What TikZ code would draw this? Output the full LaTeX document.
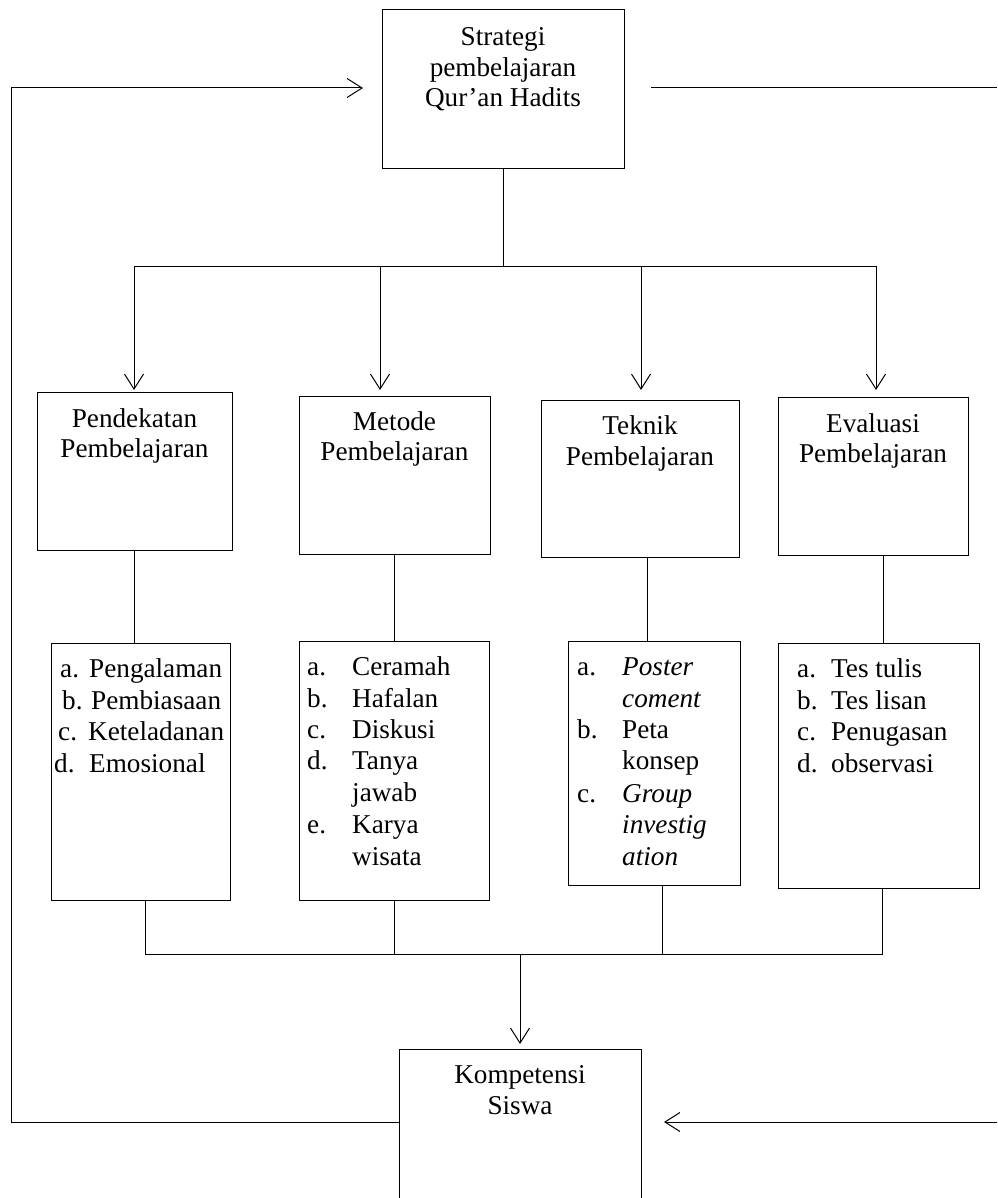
\documentclass[tikz,border=0pt]{standalone}
\usepackage{fontspec}
\setmainfont{Liberation Serif}
\usetikzlibrary{arrows.meta}
\begin{document}
\begin{tikzpicture}[x=1pt,y=-1pt,
  box/.style={draw, line width=1pt, rectangle, inner sep=0pt, anchor=north west},
  txt/.style={anchor=base, inner sep=0pt, font=\fontsize{27.2}{30}\selectfont},
  lab/.style={anchor=base west, inner sep=0pt, font=\fontsize{27.2}{30}\selectfont},
  wire/.style={line width=1pt},
  arr/.style={line width=1pt, -{Straight Barb[length=15pt,width=19pt]}}]

\useasboundingbox (0,0) rectangle (997,1198);
\fill[white] (0,0) rectangle (997,1198);
\clip (0,0) rectangle (997,1198);

% ---- boxes ----
\node[box, minimum width=242pt, minimum height=159pt] (strat) at (382,9) {};
\node[box, minimum width=195pt, minimum height=158pt] (b1) at (37,392) {};
\node[box, minimum width=191pt, minimum height=158pt] (b2) at (299,396) {};
\node[box, minimum width=198pt, minimum height=157pt] (b3) at (541,400) {};
\node[box, minimum width=190pt, minimum height=158pt] (b4) at (778,397) {};
\node[box, minimum width=179pt, minimum height=257pt] (l1) at (51,643) {};
\node[box, minimum width=190pt, minimum height=259pt] (l2) at (299,641) {};
\node[box, minimum width=172pt, minimum height=244pt] (l3) at (568,641) {};
\node[box, minimum width=201pt, minimum height=245pt] (l4) at (778,643) {};
\node[box, minimum width=242pt, minimum height=200pt] (komp) at (399,1049) {};

% ---- box titles ----
\node[txt] (strat-1) at (503,46) {Strategi};
\node[txt] (strat-2) at (503,77) {pembelajaran};
\node[txt] (strat-3) at (503,107) {Qur’an Hadits};

\node[txt] (b1-1) at (134.5,427) {Pendekatan};
\node[txt] (b1-2) at (134.5,457) {Pembelajaran};
\node[txt] (b2-1) at (394.5,430) {Metode};
\node[txt] (b2-2) at (394.5,460) {Pembelajaran};
\node[txt] (b3-1) at (640,434) {Teknik};
\node[txt] (b3-2) at (640,465) {Pembelajaran};
\node[txt] (b4-1) at (873,432) {Evaluasi};
\node[txt] (b4-2) at (873,462) {Pembelajaran};

\node[txt] (komp-1) at (520,1083) {Kompetensi};
\node[txt] (komp-2) at (520,1114) {Siswa};

% ---- list: pendekatan ----
\node[lab] (l1-a) at (60,677) {a.};  \node[lab] (l1-at) at (89,677) {Pengalaman};
\node[lab] (l1-b) at (62,709) {b.};  \node[lab] (l1-bt) at (91,709) {Pembiasaan};
\node[lab] (l1-c) at (58,740) {c.};  \node[lab] (l1-ct) at (88,740) {Keteladanan};
\node[lab] (l1-d) at (54,772) {d.};  \node[lab] (l1-dt) at (89,772) {Emosional};

% ---- list: metode ----
\node[lab] (l2-a) at (307,675) {a.}; \node[lab] (l2-at) at (352,675) {Ceramah};
\node[lab] (l2-b) at (307,707) {b.}; \node[lab] (l2-bt) at (352,707) {Hafalan};
\node[lab] (l2-c) at (307,738) {c.}; \node[lab] (l2-ct) at (352,738) {Diskusi};
\node[lab] (l2-d) at (307,769) {d.}; \node[lab] (l2-dt) at (352,769) {Tanya};
\node[lab] (l2-dt2) at (352,801) {jawab};
\node[lab] (l2-e) at (307,833) {e.}; \node[lab] (l2-et) at (352,833) {Karya};
\node[lab] (l2-et2) at (352,865) {wisata};

% ---- list: teknik ----
\node[lab] (l3-a) at (577,675) {a.}; \node[lab] (l3-at) at (622,675) {\itshape Poster};
\node[lab] (l3-at2) at (622,707) {\itshape coment};
\node[lab] (l3-b) at (577,738) {b.}; \node[lab] (l3-bt) at (622,738) {Peta};
\node[lab] (l3-bt2) at (622,769) {konsep};
\node[lab] (l3-c) at (577,802) {c.}; \node[lab] (l3-ct) at (622,802) {\itshape Group};
\node[lab] (l3-ct2) at (622,833) {\itshape investig};
\node[lab] (l3-ct3) at (622,865) {\itshape ation};

% ---- list: evaluasi ----
\node[lab] (l4-a) at (797,677) {a.}; \node[lab] (l4-at) at (831,677) {Tes tulis};
\node[lab] (l4-b) at (797,709) {b.}; \node[lab] (l4-bt) at (831,709) {Tes lisan};
\node[lab] (l4-c) at (797,740) {c.}; \node[lab] (l4-ct) at (831,740) {Penugasan};
\node[lab] (l4-d) at (797,772) {d.}; \node[lab] (l4-dt) at (831,772) {observasi};

% ---- upper distribution bus ----
\coordinate (busL) at (134,266);
\coordinate (busR) at (876,266);
\draw[wire] (strat.south) -- (strat.south |- busL);
\draw[wire] (busL) -- (busR);
\coordinate (tip1) at (134,390);
\coordinate (tip2) at (380,390);
\coordinate (tip3) at (641,390);
\coordinate (tip4) at (876,390);
\draw[arr] (busL) -- (tip1);
\draw[arr] (busL -| tip2) -- (tip2);
\draw[arr] (busL -| tip3) -- (tip3);
\draw[arr] (busR) -- (tip4);

% ---- box to list links ----
\draw[wire] (b1.south -| 134,0) -- (l1.north -| 134,0);
\draw[wire] (b2.south -| 394,0) -- (l2.north -| 394,0);
\draw[wire] (b3.south -| 647,0) -- (l3.north -| 647,0);
\draw[wire] (b4.south -| 883,0) -- (l4.north -| 883,0);

% ---- lower collecting bus ----
\coordinate (bus2L) at (145,954.5);
\coordinate (bus2R) at (882,954.5);
\draw[wire] (l1.south -| bus2L) -- (bus2L);
\draw[wire] (l2.south -| 394,0) -- (bus2L -| 394,0);
\draw[wire] (l3.south -| 662,0) -- (bus2L -| 662,0);
\draw[wire] (l4.south -| bus2R) -- (bus2R);
\draw[wire] (bus2L) -- (bus2R);
\coordinate (ktip) at (520,1044);
\draw[arr] (bus2L -| ktip) -- (ktip);

% ---- feedback loop ----
\coordinate (ftip) at (363,88);
\draw[arr] (komp.west |- 0,1122) -- (11,1122) -- (11,88) -- (ftip);
\coordinate (topR1) at (651,88);
\coordinate (topR2) at (997,88);
\draw[wire] (topR1) -- (topR2);
\coordinate (rin) at (997,1122);
\coordinate (rtip) at (664,1122);
\draw[arr] (rin) -- (rtip);

\end{tikzpicture}
\end{document}
